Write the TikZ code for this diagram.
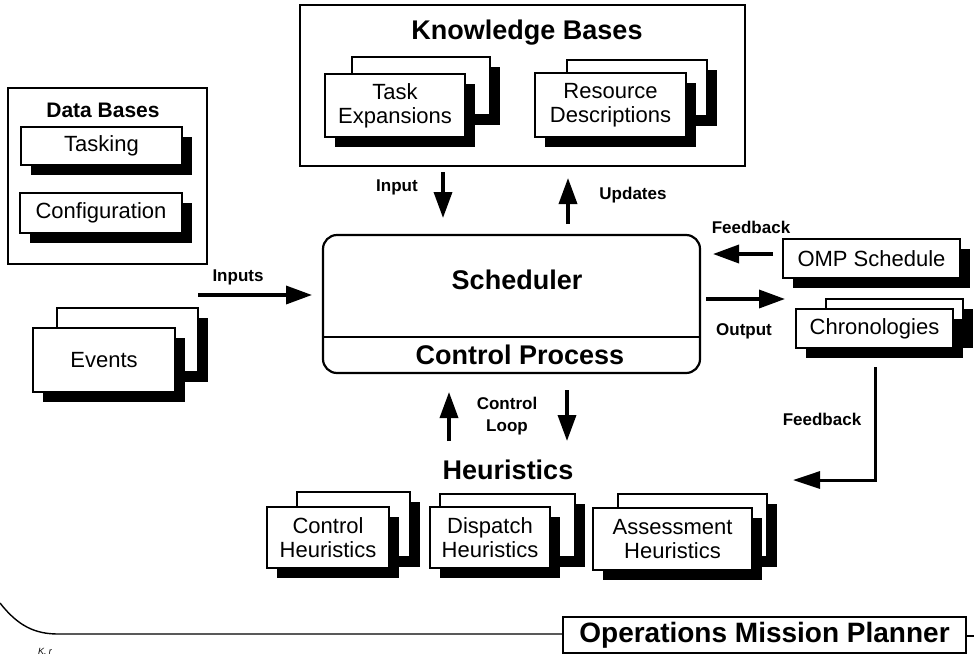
\documentclass[tikz,border=0pt]{standalone}
\usepackage{fontspec}
\setmainfont{Liberation Sans}
\usetikzlibrary{arrows.meta,shadows,positioning}
\newcommand\fReg{\fontsize{22}{24}\selectfont}
\newcommand\fBig{\fontsize{27}{30}\selectfont\bfseries}
\newcommand\fDB{\fontsize{21}{24}\selectfont\bfseries}
\newcommand\fLab{\fontsize{17}{22}\selectfont\bfseries}
\tikzset{
  sz/.style 2 args={minimum width=#1pt, minimum height=#2pt},
  page/.style={draw, line width=1.6pt, fill=white, inner sep=0pt, align=center, font=\fReg,
    drop shadow={shadow xshift=10pt, shadow yshift=-10pt, fill=black, opacity=1}},
  frame/.style={draw, line width=1.8pt, inner sep=0pt},
  bigarrow/.style={line width=3.5pt, -{Triangle[length=26pt,width=18pt]}},
  fbarrow/.style={line width=3pt, -{Triangle[length=27pt,width=17pt]}},
  lab/.style={font=\fLab, inner sep=0pt},
  ttl/.style={font=\fBig, inner sep=0pt},
}
\begin{document}
\begin{tikzpicture}[x=1pt,y=-1pt]
\useasboundingbox (0,0) rectangle (976,656);

% Knowledge bases
\node[frame, sz={445}{161}] (kb) at (522.5,85.5) {};
\node[ttl] (kbt) at (527,33) {Knowledge Bases};
\node[page, sz={138}{58}] (teb) at (421,86) {};
\node[page, sz={140}{63}] (te) at (395,105.5) {Task\\Expansions};
\node[page, sz={140}{56}] (rdb) at (637,88) {};
\node[page, sz={151}{64}] (rd) at (610.5,105) {Resource\\Descriptions};

% Data bases
\node[frame, sz={199}{176}] (db) at (107.5,176) {};
\node[font=\fDB, inner sep=0pt] (dbt) at (103,110) {Data Bases};
\node[page, sz={161}{38}] (task) at (101.5,146) {Tasking};
\node[page, sz={162}{40}] (conf) at (101,213) {Configuration};

% Events
\node[page, sz={141}{64}] (evb) at (127.5,340) {};
\node[page, sz={142}{64}] (ev) at (104,360) {Events};

% Scheduler
\node[draw, line width=2.2pt, rounded corners=14pt, sz={377}{138}, inner sep=0pt] (sch) at (511.5,304) {};
\draw[line width=1.8pt] (sch.west |- 0,337) -- (sch.east |- 0,337);
\node[ttl] (scht) at (517,280) {Scheduler};
\node[ttl] (cpt) at (520,355) {Control Process};

% Right side
\node[page, sz={177}{39}] (omp) at (871.5,258.5) {OMP Schedule};
\node[page, sz={137}{39}] (chb) at (894.5,318.5) {};
\node[page, sz={157}{39}] (ch) at (874.5,328.5) {Chronologies};

% Heuristics
\node[ttl] (heut) at (508,470) {Heuristics};
\node[page, sz={113}{65}] (chhb) at (353.5,524.5) {};
\node[page, sz={122}{61}] (chh) at (328,537.5) {Control\\Heuristics};
\node[page, sz={135}{63}] (dhb) at (507.5,525.5) {};
\node[page, sz={120}{61}] (dh) at (490,537.5) {Dispatch\\Heuristics};
\node[page, sz={149}{63}] (ahb) at (692.5,525.5) {};
\node[page, sz={159}{62}] (ah) at (672.5,539) {Assessment\\Heuristics};

% Operations Mission Planner
\node[draw, line width=1.6pt, sz={403}{36}, inner sep=0pt, font=\fontsize{28}{30}\selectfont\bfseries] (opm) at (764.5,635) {Operations Mission Planner};
\draw[line width=1.4pt] (0,603) .. controls (18,626) and (35,634) .. (58,634) -- (opm.west |- 0,634);
\draw[line width=1.4pt] (opm.east |- 0,636) -- ++(7,0);
\node[inner sep=0pt, font=\fontsize{9}{9}\selectfont\itshape] (kr) at (45,651) {K. r};

% Arrows
\coordinate (inS) at (443,172);
\coordinate (inE) at (443,218);
\draw[bigarrow] (inS) -- (inE);
\node[lab] (inl) at (397,187) {Input};
\coordinate (upS) at (568,224);
\coordinate (upE) at (568,178);
\draw[bigarrow] (upS) -- (upE);
\node[lab] (upl) at (633,195) {Updates};

\coordinate (ipS) at (198,295);
\coordinate (ipE) at (312,295);
\draw[bigarrow] (ipS) -- (ipE);
\node[lab] (ipl) at (238,277) {Inputs};

\coordinate (fbS) at (773,254);
\coordinate (fbE) at (713,254);
\draw[bigarrow] (fbS) -- (fbE);
\node[lab] (fbl) at (751,227) {Feedback};

\coordinate (otS) at (706,299);
\coordinate (otE) at (785,299);
\draw[bigarrow] (otS) -- (otE);
\node[lab] (otl) at (744,331) {Output};

\coordinate (clS) at (449,441);
\coordinate (clE) at (449,392);
\draw[bigarrow] (clS) -- (clE);
\coordinate (cdS) at (567,390);
\coordinate (cdE) at (567,441);
\draw[bigarrow] (cdS) -- (cdE);
\node[lab, align=center] (cll) at (507,416) {Control\\Loop};

\coordinate (f2S) at (875,367);
\coordinate (f2M) at (875,480);
\coordinate (f2E) at (793,480);
\draw[fbarrow] (f2S) -- (f2M) -- (f2E);
\node[lab] (f2l) at (822,419) {Feedback};
\end{tikzpicture}
\end{document}
